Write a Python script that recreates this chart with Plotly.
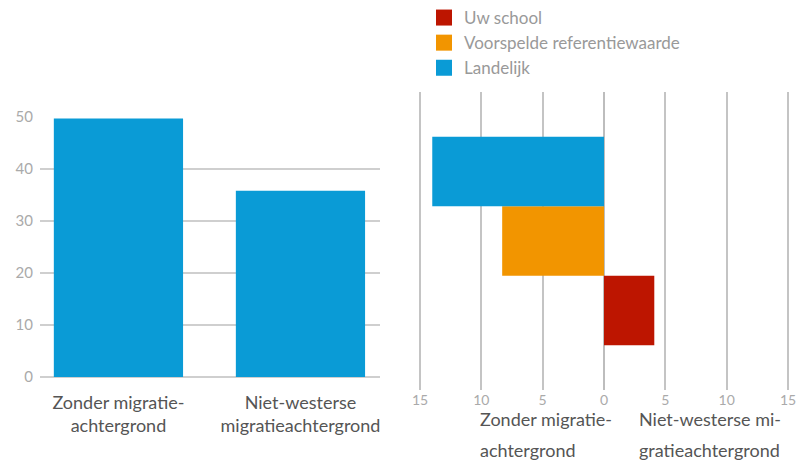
import plotly.graph_objects as go

# ---- data ----
categories = ["Zonder migratie-<br>achtergrond", "Niet-westerse<br>migratieachtergrond"]
landelijk_pct = [49.7, 35.8]

series_names = ["Uw school", "Voorspelde referentiewaarde", "Landelijk"]
series_colors = ["#bd1500", "#f29500", "#0a9bd6"]
# diverging values: negative = Zonder migratieachtergrond side, positive = Niet-westerse side
series_diff = [4.1, -8.3, -14.0]

right_tickvals = [-15, -10, -5, 0, 5, 10, 15]
right_ticktext = ["15", "10", "5", "0", "5", "10", "15"]
right_side_labels = [["Zonder migratie-", "achtergrond"], ["Niet-westerse mi-", "gratieachtergrond"]]

OFF = 0
W, H = 796, 463
FONT = "Lato"

def px_x(p):
    return (p - OFF) / W

def px_y(p):
    return 1 - (p - OFF) / H

fig = go.Figure()

# left chart
fig.add_trace(go.Bar(
    x=categories, y=landelijk_pct, marker=dict(color=series_colors[2], line=dict(width=0)),
    width=0.71, showlegend=False, xaxis="x", yaxis="y", hoverinfo="skip"))

# right chart
for name, color, val in zip(series_names, series_colors, series_diff):
    fig.add_trace(go.Bar(
        x=[val], y=[name], orientation="h", name=name,
        marker=dict(color=color, line=dict(width=0)), width=1,
        showlegend=False, xaxis="x2", yaxis="y2", hoverinfo="skip"))

# legend entries (square swatches)
for name, color in zip(series_names, series_colors):
    fig.add_trace(go.Scatter(
        x=[None], y=[None], mode="markers", name=name,
        marker=dict(symbol="square", size=18, color=color),
        xaxis="x2", yaxis="y2", showlegend=True))

annotations = []
ann_x = [478, 637]
ann_y = [419, 450]
for xi, lines in zip(ann_x, right_side_labels):
    for yi, line in zip(ann_y, lines):
        annotations.append(dict(
            text=line, x=px_x(xi), y=px_y(yi), xref="paper", yref="paper",
            xanchor="left", yanchor="middle", showarrow=False,
            font=dict(family=FONT, size=18, color="#555555")))

PXU = 368 / 30.0  # pixels per unit on right axis
PAD = 0.25

fig.update_layout(
    width=W, height=H,
    margin=dict(l=0, r=0, t=0, b=0, autoexpand=False),
    paper_bgcolor="white", plot_bgcolor="white",
    font=dict(family=FONT),
    barmode="overlay",
    xaxis=dict(domain=[px_x(40), px_x(380)], range=[-0.431, 1.437], automargin=False,
               showgrid=False, zeroline=False, showline=False, ticks="",
               tickfont=dict(size=18, color="#555555"), ticklabelstandoff=13,
               fixedrange=True),
    yaxis=dict(domain=[px_y(377), px_y(117)], range=[0, 50], automargin=False,
               tickvals=[0, 10, 20, 30, 40, 50],
               showgrid=True, gridcolor="#cfcfcf", gridwidth=1.5,
               zeroline=True, zerolinecolor="#cfcfcf", zerolinewidth=1.5,
               showline=False, ticks="", ticklabelstandoff=6,
               tickfont=dict(size=15, color="#aaaaaa"), fixedrange=True),
    xaxis2=dict(domain=[px_x(420 - PAD * PXU), px_x(788 + PAD * PXU)],
                range=[-15 - PAD, 15 + PAD], anchor="y2",
                automargin=False, ticklabeloverflow="allow",
                tickvals=right_tickvals, ticktext=right_ticktext,
                showgrid=True, gridcolor="#c4c4c4", gridwidth=1.5,
                zeroline=True, zerolinecolor="#bdbdbd", zerolinewidth=1.5,
                showline=False, ticks="", ticklabelstandoff=0,
                tickfont=dict(size=14, color="#aaaaaa"), fixedrange=True),
    yaxis2=dict(domain=[px_y(390), px_y(92)], range=[-1.144, 3.144], anchor="x2", automargin=False,
                type="category", categoryorder="array", categoryarray=series_names,
                showgrid=False, zeroline=False, showline=False, showticklabels=False,
                ticks="", fixedrange=True),
    legend=dict(x=px_x(424), y=px_y(0), xanchor="left", yanchor="top",
                font=dict(family=FONT, size=17, color="#999999"),
                traceorder="normal", itemwidth=30, tracegroupgap=0,
                bgcolor="rgba(0,0,0,0)"),
    annotations=annotations,
)

fig.write_html(
    "out.html",
    config={"displayModeBar": False},
    post_script="document.body.style.margin='0';document.body.style.overflow='hidden';",
)
